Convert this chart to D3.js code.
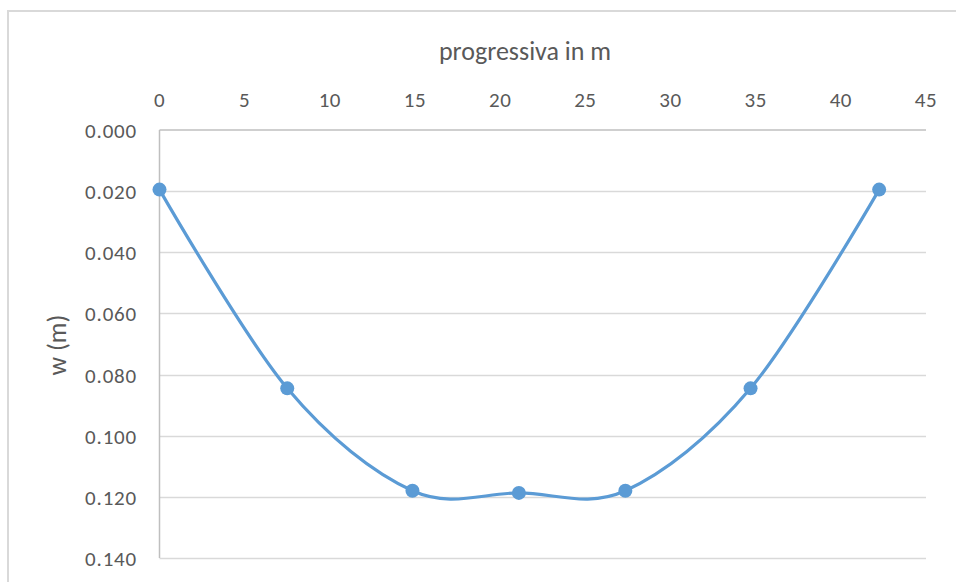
<!DOCTYPE html>
<html><head><meta charset="utf-8">
<script src="https://cdn.jsdelivr.net/npm/d3@7"></script>
<style>
body{margin:0;background:#fff;}
text{font-family:Carlito,Lato,"Open Sans",sans-serif;fill:#595959;}
</style></head>
<body><svg id="c" width="956" height="582"></svg>
<script>
const progressiva = [0, 7.5, 14.85, 21.1, 27.35, 34.7, 42.25];
const w = [0.0195, 0.0845, 0.118, 0.1187, 0.118, 0.0845, 0.0195];
const xTicks = [0,5,10,15,20,25,30,35,40,45];
const yTicks = [0,0.02,0.04,0.06,0.08,0.10,0.12,0.14];
const xTitle = "progressiva in m";
const yTitle = "w (m)";

const svg = d3.select("#c");
svg.append("rect").attr("x",8).attr("y",11).attr("width",960).attr("height",600)
  .attr("fill","#fff").attr("stroke","#d9d9d9").attr("stroke-width",2);

const L=159.5, R=926, T=130, B=558;
const x = d3.scaleLinear().domain([0,45]).range([L,R]);
const y = d3.scaleLinear().domain([0,0.14]).range([T,B]);

// gridlines
svg.append("g").selectAll("line").data(yTicks.slice(1)).join("line")
  .attr("x1",L).attr("x2",R).attr("y1",d=>Math.round(y(d))+0.5).attr("y2",d=>Math.round(y(d))+0.5)
  .attr("stroke","#d9d9d9").attr("stroke-width",1.5);

// top axis (0.000)
svg.append("line").attr("x1",L).attr("x2",R).attr("y1",T).attr("y2",T)
  .attr("stroke","#bfbfbf").attr("stroke-width",1.5);
// left axis
svg.append("line").attr("x1",L).attr("x2",L).attr("y1",T).attr("y2",B)
  .attr("stroke","#bfbfbf").attr("stroke-width",1.5);

// x tick labels (top)
svg.append("g").selectAll("text").data(xTicks).join("text")
  .attr("x",d=>x(d)).attr("y",107).attr("text-anchor","middle")
  .attr("font-size",21).attr("letter-spacing",0.5).text(d=>d);

// y tick labels
svg.append("g").selectAll("text").data(yTicks).join("text")
  .attr("x",137).attr("y",d=>y(d)+8).attr("text-anchor","end")
  .attr("font-size",21).attr("letter-spacing",0.8).text(d=>d3.format(".3f")(d));

// titles
svg.append("text").attr("x",525).attr("y",60).attr("text-anchor","middle")
  .attr("font-size",26).text(xTitle);
svg.append("text").attr("transform","translate(66,345) rotate(-90)")
  .attr("text-anchor","middle").attr("font-size",26).text(yTitle);

const data = progressiva.map((p,i)=>[p,w[i]]);
const line = d3.line().x(d=>x(d[0])).y(d=>y(d[1])).curve(d3.curveCatmullRom.alpha(0));
svg.append("path").datum(data).attr("d",line).attr("fill","none")
  .attr("stroke","#5b9bd5").attr("stroke-width",3.2).attr("stroke-linecap","round");
svg.append("g").selectAll("circle").data(data).join("circle")
  .attr("cx",d=>x(d[0])).attr("cy",d=>y(d[1])).attr("r",7).attr("fill","#5b9bd5");
</script></body></html>
